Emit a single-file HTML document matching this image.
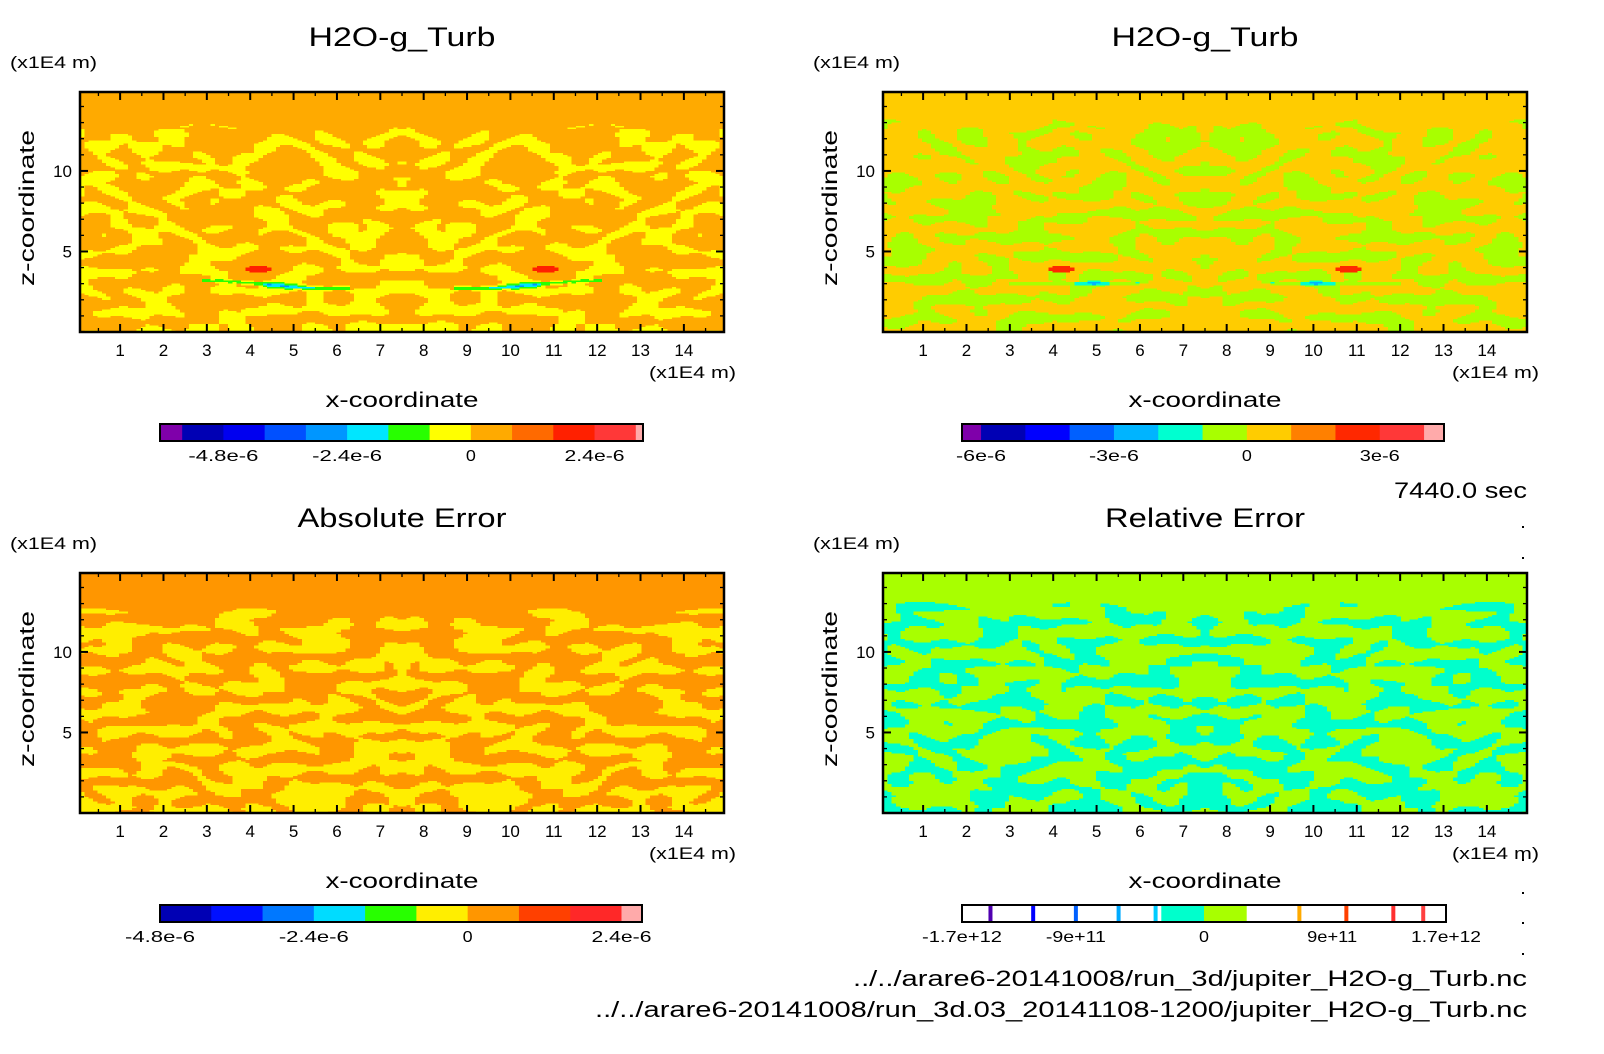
<!DOCTYPE html>
<html><head><meta charset="utf-8">
<style>
html,body{margin:0;padding:0;background:#fff;}
#root{position:relative;width:1604px;height:1054px;overflow:hidden;background:#fff;font-family:"Liberation Sans",sans-serif;}
canvas{position:absolute;image-rendering:pixelated;}
svg{position:absolute;left:0;top:0;}
</style></head>
<body>
<div id="root">
<canvas id="c0"></canvas>
<canvas id="c1"></canvas>
<canvas id="c2"></canvas>
<canvas id="c3"></canvas>
<svg id="ov" width="1604" height="1054"></svg>
</div>
<script>
// ---- data ----
const xTickLabels=[1,2,3,4,5,6,7,8,9,10,11,12,13,14];
const yTickLabels=[5,10];
const xDomain=[0.075,14.925];
const yDomain=[0,14.9];
const panelTitles=["H2O-g_Turb","H2O-g_Turb","Absolute Error","Relative Error"];
const titleWidths=[187,187,209,200];
const levelsA=[-5.6,-4.8,-4.0,-3.2,-2.4,-1.6,-0.8,0,0.8,1.6,2.4,3.2];
const colorsA=["#7f00aa","#0000b4","#0000f0","#0050ff","#0096ff","#00e6ff","#28ff00","#ffff00","#ffaa00","#ff6a00","#ff2000","#ff3838","#ffaaaa"];
const rangeA=[-6.03,3.34];
const cbLabelsA=[-4.8,-2.4,0,2.4];
const cbTextA=["-4.8e-6","-2.4e-6","0","2.4e-6"];
const levelsB=[-6,-5,-4,-3,-2,-1,0,1,2,3,4];
const colorsB=["#7f00aa","#0000b4","#0000ff","#0060ff","#00b4ff","#00ffd0","#a8ff00","#ffcc00","#ff8000","#ff2800","#ff3838","#ffaaaa"];
const rangeB=[-6.43,4.45];
const cbLabelsB=[-6,-3,0,3];
const cbTextB=["-6e-6","-3e-6","0","3e-6"];
const levelsC=[-4.0,-3.2,-2.4,-1.6,-0.8,0,0.8,1.6,2.4];
const colorsC=["#0000b4","#0010ff","#0078ff","#00dcff","#28ff00","#ffee00","#ff9600","#ff4000","#ff2828","#ffaaaa"];
const rangeC=[-4.8,2.72];
const cbLabelsC=[-4.8,-2.4,0,2.4];
const cbTextC=["-4.8e-6","-2.4e-6","0","2.4e-6"];
const levelsD=[-15,-12,-9,-6,-3,0,3,6,9,12,15];
const colorsD=["#ffffff","#ffffff","#ffffff","#ffffff","#ffffff","#00ffcc","#a8ff00","#ffffff","#ffffff","#ffffff","#ffffff","#ffffff"];
const lineMarksD=[-15,-12,-9,-6,-3.4,6.7,10,13.3,15.4];
const lineColorsD=["#5000b0","#0000ff","#0060ff","#00aaff","#00ccff","#ffaa00","#ff4000","#ff3030","#ff4040"];
const rangeD=[-17,17];
const cbLabelsD=[-17,-9,0,9,17];
const cbTextD=["-1.7e+12","-9e+11","0","9e+11","1.7e+12"];
// texture wave components
const wavesKx=[1.4,3.3,5.2,2.5,6.6];
const wavesKy=[3.1,-2.4,1.3,4.3,-3.6];
const wavesPh=[0.3,1.1,2.0,0.7,2.6];
const wavesAmp=[1.0,0.8,0.5,0.6,0.4];
const warpK=[1.8,1.1,2.6,0.9,3.1];
const warpAmp=[1.5,2.0,1.0,1.7,0.9];
// panel field parameters
const fieldBase=[0.15,0.3,0.02,0.3];
const fieldGain=[1.0,1.0,1.0,4.2];
const fieldLo=[-0.6,-0.9,-0.7,-2.5];
const fieldHi=[0.7,0.9,0.7,2.5];
const fieldTop=[12.6,13.0,12.4,12.8];
const fieldShift=[0,0.9,2.3,4.1];
// ---- layout ----
const panels=[
 {x0:80,x1:724,y0:92,y1:332},
 {x0:883,x1:1527,y0:92,y1:332},
 {x0:80,x1:724,y0:573,y1:813},
 {x0:883,x1:1527,y0:573,y1:813}];
const NS="http://www.w3.org/2000/svg";
const ov=document.getElementById('ov');
function el(tag,attrs,parent){const e=document.createElementNS(NS,tag);for(const k in attrs)e.setAttribute(k,attrs[k]);(parent||ov).appendChild(e);return e;}
function txt(s,x,y,size,anchor,parent,w){const a={x:x,y:y,'font-size':size,'text-anchor':anchor||'start','font-family':'Liberation Sans, sans-serif',fill:'#000'};if(w){a.textLength=w;a.lengthAdjust='spacingAndGlyphs';}const t=el('text',a,parent);t.textContent=s;return t;}
function colorFor(v,levels,colors){let i=0;while(i<levels.length&&v>=levels[i])i++;return colors[i];}
function noise(xp,y,sh){let n=0;for(let i=0;i<wavesKx.length;i++){n+=wavesAmp[i]*Math.sin(wavesKx[i]*xp+wavesKy[i]*y+wavesPh[i]+sh+warpAmp[i]*Math.sin(warpK[i]*(y+sh)-0.35*xp*wavesKx[(i+1)%5]));}return n/1.6;}
function fieldValue(p,x,y){
  const xp=Math.abs(x-7.5);
  if(y>fieldTop[p]+0.3*Math.sin(xp*1.7+p))return p==3?1.5:(p==2?0.4:0.4);
  let v=fieldBase[p]-fieldGain[p]*noise(xp,y,fieldShift[p]);
  v=Math.max(fieldLo[p],Math.min(fieldHi[p],v));
  if(p==0){const b=Math.exp(-Math.pow((y-2.95+0.25*Math.sin(xp))/0.13,2));if(xp>1.2&&xp<4.6)v-=1.9*b;}
  if(p==1){const b=Math.exp(-Math.pow((y-3.0)/0.1,2));if(xp>1.5&&xp<4.5)v-=1.6*b;}
  if(p<2){const d1=Math.hypot((xp-3.3)/0.35,(y-3.9)/0.2);if(d1<1)v=2.0;}
  return v;}
const levelSets=[[levelsA,colorsA],[levelsB,colorsB],[levelsC,colorsC],[levelsD,colorsD]];
function hex(c){return [parseInt(c.substr(1,2),16),parseInt(c.substr(3,2),16),parseInt(c.substr(5,2),16)];}
panels.forEach((pn,p)=>{
  const cv=document.getElementById('c'+p);
  const W=148,H=149;cv.width=W;cv.height=H;
  cv.style.left=pn.x0+'px';cv.style.top=pn.y0+'px';cv.style.width=(pn.x1-pn.x0)+'px';cv.style.height=(pn.y1-pn.y0)+'px';
  const ctx=cv.getContext('2d');const img=ctx.createImageData(W,H);
  for(let j=0;j<H;j++)for(let i=0;i<W;i++){
    const x=xDomain[0]+(i+0.5)/W*(xDomain[1]-xDomain[0]);
    const y=yDomain[1]-(j+0.5)/H*(yDomain[1]-yDomain[0]);
    const c=hex(colorFor(fieldValue(p,x,y),levelSets[p][0],levelSets[p][1]));
    const k=(j*W+i)*4;img.data[k]=c[0];img.data[k+1]=c[1];img.data[k+2]=c[2];img.data[k+3]=255;}
  ctx.putImageData(img,0,0);
  const g=el('g',{});
  
  
  const sx=v=>pn.x0+(v-xDomain[0])/(xDomain[1]-xDomain[0])*(pn.x1-pn.x0);
  const sy=v=>pn.y1-(v-yDomain[0])/(yDomain[1]-yDomain[0])*(pn.y1-pn.y0);
  for(let v=0.5;v<15;v+=0.5){const X=sx(v);const L=(v%1===0)?8:4;
    el('line',{x1:X,y1:pn.y1,x2:X,y2:pn.y1-L,stroke:'#000','stroke-width':(v%1===0)?2:1.3},g);
    el('line',{x1:X,y1:pn.y0,x2:X,y2:pn.y0+L,stroke:'#000','stroke-width':(v%1===0)?2:1.3},g);}
  for(let v=1;v<15;v++){const Y=sy(v);const L=(v%5===0)?8:4;
    el('line',{x1:pn.x0,y1:Y,x2:pn.x0+L,y2:Y,stroke:'#000','stroke-width':(v%5===0)?2:1.3},g);
    el('line',{x1:pn.x1,y1:Y,x2:pn.x1-L,y2:Y,stroke:'#000','stroke-width':(v%5===0)?2:1.3},g);}
  el('rect',{x:pn.x0,y:pn.y0,width:pn.x1-pn.x0,height:pn.y1-pn.y0,fill:'none',stroke:'#000','stroke-width':2.5},g);
  xTickLabels.forEach(v=>{const t=txt(String(v),sx(v),pn.y1+24,17,'middle',g);});
  yTickLabels.forEach(v=>{const t=txt(String(v),pn.x0-8,sy(v)+6,17,'end',g);});
  const cx=(pn.x0+pn.x1)/2;
  const tt=txt(panelTitles[p],cx,pn.y0-46,27,'middle',g,titleWidths[p]);
  const u1=txt('(x1E4 m)',pn.x0-70,pn.y0-24,17,'start',g,87);
  const u2=txt('(x1E4 m)',pn.x1+12,pn.y1+46,17,'end',g,87);
  const xl=txt('x-coordinate',cx,pn.y1+75,21,'middle',g,153);
  const yl=txt('z-coordinate',0,0,21,'middle',g,156);yl.setAttribute('transform','translate('+(pn.x0-46)+','+((pn.y0+pn.y1)/2-4)+') rotate(-90)');
  
});
const cbs=[
 {x0:160,x1:643,y0:424,y1:441,lv:levelsA,co:colorsA,r:rangeA,lb:cbLabelsA,lt:cbTextA},
 {x0:962,x1:1444,y0:424,y1:441,lv:levelsB,co:colorsB,r:rangeB,lb:cbLabelsB,lt:cbTextB},
 {x0:160,x1:642,y0:905,y1:922,lv:levelsC,co:colorsC,r:rangeC,lb:cbLabelsC,lt:cbTextC},
 {x0:962,x1:1446,y0:905,y1:922,lv:levelsD,co:colorsD,r:rangeD,lb:cbLabelsD,lt:cbTextD}];
cbs.forEach((cb,k)=>{
  const g=el('g',{});
  
  
  const s=v=>cb.x0+(v-cb.r[0])/(cb.r[1]-cb.r[0])*(cb.x1-cb.x0);
  const edges=[cb.r[0]].concat(cb.lv.filter(v=>v>cb.r[0]&&v<cb.r[1])).concat([cb.r[1]]);
  let ci=cb.lv.filter(v=>v<=cb.r[0]).length;
  for(let i=0;i<edges.length-1;i++){
    el('rect',{x:s(edges[i]),y:cb.y0,width:s(edges[i+1])-s(edges[i])+0.5,height:cb.y1-cb.y0,fill:cb.co[ci+i]},g);}
  if(k===3){lineMarksD.forEach((v,i)=>{el('rect',{x:s(v)-2,y:cb.y0,width:4,height:cb.y1-cb.y0,fill:lineColorsD[i]},g);});}
  el('rect',{x:cb.x0,y:cb.y0,width:cb.x1-cb.x0,height:cb.y1-cb.y0,fill:'none',stroke:'#000','stroke-width':2},g);
  cb.lb.forEach((v,i)=>{const t=txt(cb.lt[i],s(v),cb.y1+20,16,'middle',g,cb.lt[i].length*10);});
});
const tm=txt('7440.0 sec',1527,498,22,'end',null,133);
const f1=txt('../../arare6-20141008/run_3d/jupiter_H2O-g_Turb.nc',1527,986,22,'end',null,674);
const f2=txt('../../arare6-20141008/run_3d.03_20141108-1200/jupiter_H2O-g_Turb.nc',1527,1017,22,'end',null,932);
[526,557,859,892,922,953].forEach(y=>{const d=el('rect',{x:1522,y:y,width:2,height:2,fill:'#000'});});
</script>
</body></html>
